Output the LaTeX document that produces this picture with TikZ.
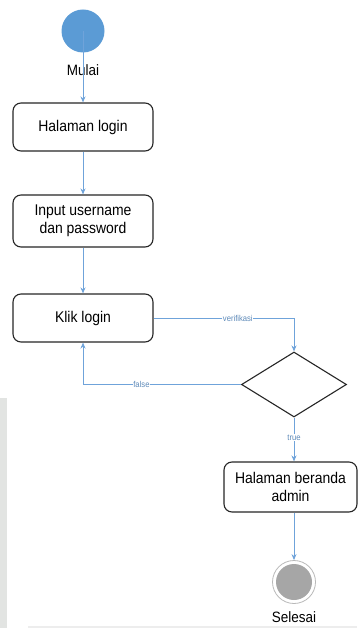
\documentclass[tikz,border=0pt]{standalone}
\usepackage{fontspec}
\setmainfont{Liberation Sans}[FakeStretch=0.9]
\usetikzlibrary{arrows.meta,shapes.geometric}
\definecolor{lblue}{HTML}{5B9BD5}
\definecolor{cblue}{HTML}{6FA3DA}
\definecolor{endgray}{HTML}{A6A6A6}
\definecolor{bargray}{HTML}{E2E4E2}
\begin{document}
\begin{tikzpicture}[x=1pt,y=-1pt,
  actbox/.style={draw=black!85,line width=1.1pt,rounded corners=8pt,fill=white,
    minimum width=140pt,minimum height=48pt,align=center,font=\fontsize{15.5}{18}\selectfont,inner sep=2pt},
  flow/.style={draw=cblue,line width=1pt,-{Stealth[length=6pt,width=5pt]}},
  lbl/.style={fill=white,text=cblue!85!black,font=\fontsize{8.5}{9}\selectfont,inner sep=0.6pt},
  captxt/.style={font=\fontsize{15}{17}\selectfont,inner sep=0pt}]
\useasboundingbox (0,0) rectangle (357,628);
\fill[bargray] (0,398) rectangle (7,628);
\fill[black!7] (28,625.5) rectangle (357,628);
% start
\node[circle,fill=lblue,minimum size=43pt,inner sep=0pt] (start) at (83,31) {};
\node[captxt] (mulai) at (83,70) {Mulai};
\node[actbox] (s1) at (83,127) {Halaman login};
\node[actbox,minimum height=52pt] (s2) at (83,221) {Input username\\dan password};
\node[actbox] (s3) at (83,318) {Klik login};
\node[diamond,draw=black!85,line width=1.1pt,fill=white,minimum width=105pt,minimum height=65pt,inner sep=0pt,aspect=1.6] (d) at (294,384.5) {};
\node[actbox,minimum width=133pt,minimum height=50pt] (s4) at (290.5,487) {Halaman beranda\\admin};
\node[circle,draw=endgray!80,line width=0.8pt,minimum size=43pt,inner sep=0pt] (end) at (294,582) {};
\node[circle,fill=endgray,minimum size=36pt,inner sep=0pt] at (end) {};
\node[captxt] (selesai) at (294,617) {Selesai};
% connectors
\draw[flow] (start.center) -- (s1.north);
\draw[flow] (s1.south) -- (s2.north);
\draw[flow] (s2.south) -- (s3.north);
\draw[flow] (s3.east) -- (294,318) node[lbl,pos=0.6] {verifikasi} -- (d.north);
\draw[flow] (d.west) -- (83,384.5) node[lbl,pos=0.63] {false} -- (s3.south);
\draw[flow] (d.south) -- node[lbl,pos=0.45] {true} (d.south |- s4.north);
\draw[flow] (s4.south -| end) -- (end.north);
\end{tikzpicture}
\end{document}
